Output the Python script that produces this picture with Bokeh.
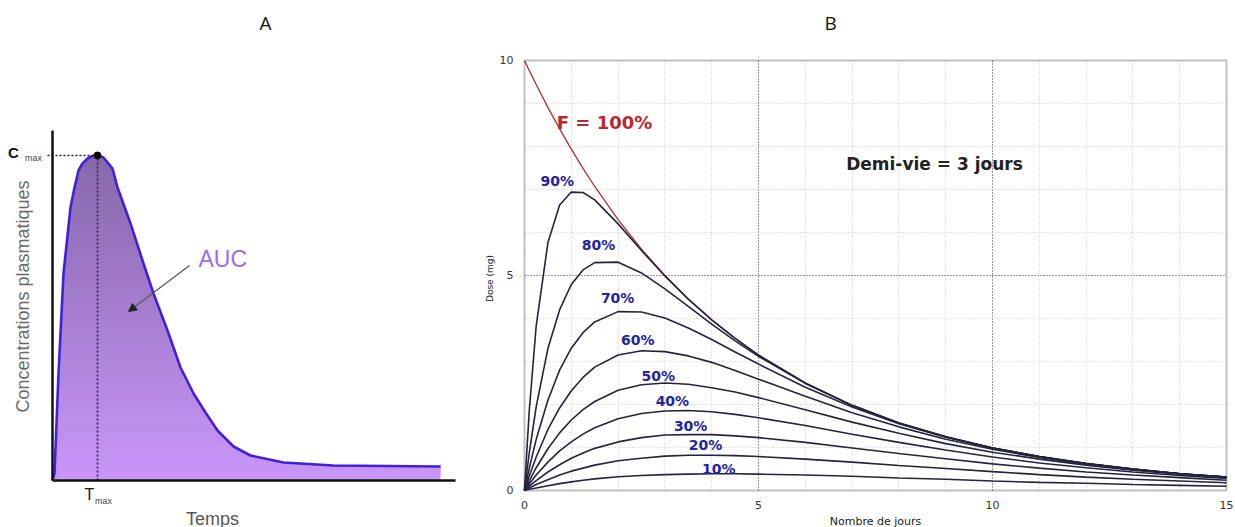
import numpy as np
from bokeh.plotting import figure
from bokeh.layouts import row
from bokeh.models import (Range1d, Label, Arrow, NormalHead, FixedTicker, LinearAxis,
                          Grid, BoxAnnotation)
from bokeh.embed import file_html
from bokeh.resources import INLINE

# ---------------- Panel A data (schematic concentration-time curve) ----------------
temps_a = [0, 0.2, 0.6, 1.1, 1.8, 2.2, 2.6, 3.0, 3.5, 4.0, 4.5, 5.1, 5.6, 6.0, 6.5, 7.8, 9.1, 10.1,
           11.5, 12.8, 14.1, 15.3, 16.5, 18.1, 19.8, 23.1, 28.1, 38.8]
conc_a = [0, 0.7, 10.7, 20.7, 27.3, 29.3, 31.0, 31.7, 32.2, 32.45, 32.5, 32.3, 31.7, 31.2, 29.3, 25.7, 21.7, 18.7,
          15.0, 11.3, 8.7, 6.8, 5.0, 3.4, 2.5, 1.8, 1.5, 1.4]
tmax_a = 4.5
cmax_a = 32.5

# ---------------- Panel B data (dose vs days, half-life 3 days) ----------------
days = [0, 0.1, 0.25, 0.5, 0.75, 1, 1.25, 1.5, 2, 2.5, 3, 3.5, 4, 4.5, 5, 6, 7, 8, 9, 10, 11, 12, 13, 14, 15]
f100 = [10, 9.77, 9.44, 8.91, 8.41, 7.94, 7.49, 7.07, 6.30, 5.61, 5.00, 4.45, 3.97, 3.54, 3.15, 2.50, 1.98, 1.57, 1.25, 0.99, 0.79, 0.63, 0.50, 0.39, 0.31]
f90 = [0, 1.83, 3.83, 5.76, 6.64, 6.94, 6.93, 6.76, 6.20, 5.58, 4.99, 4.45, 3.97, 3.54, 3.15, 2.50, 1.98, 1.57, 1.25, 0.99, 0.79, 0.63, 0.50, 0.39, 0.31]
f80 = [0, 0.86, 1.95, 3.30, 4.20, 4.79, 5.13, 5.30, 5.31, 5.06, 4.69, 4.28, 3.87, 3.48, 3.12, 2.49, 1.98, 1.57, 1.25, 0.99, 0.79, 0.62, 0.50, 0.39, 0.31]
f70 = [0, 0.51, 1.19, 2.10, 2.80, 3.31, 3.67, 3.92, 4.16, 4.15, 4.01, 3.78, 3.51, 3.22, 2.94, 2.40, 1.94, 1.55, 1.24, 0.99, 0.79, 0.62, 0.50, 0.39, 0.31]
f60 = [0, 0.33, 0.78, 1.42, 1.92, 2.32, 2.63, 2.87, 3.15, 3.25, 3.23, 3.13, 2.98, 2.79, 2.59, 2.19, 1.81, 1.48, 1.19, 0.96, 0.77, 0.62, 0.49, 0.39, 0.31]
f50 = [0, 0.22, 0.53, 0.97, 1.34, 1.64, 1.88, 2.07, 2.33, 2.46, 2.50, 2.47, 2.39, 2.29, 2.16, 1.88, 1.59, 1.33, 1.09, 0.89, 0.73, 0.59, 0.47, 0.38, 0.30]
f40 = [0, 0.15, 0.36, 0.66, 0.92, 1.13, 1.31, 1.46, 1.67, 1.79, 1.85, 1.86, 1.83, 1.77, 1.69, 1.51, 1.31, 1.12, 0.94, 0.78, 0.64, 0.53, 0.43, 0.35, 0.28]
f30 = [0, 0.10, 0.23, 0.43, 0.60, 0.75, 0.87, 0.98, 1.13, 1.23, 1.29, 1.30, 1.30, 1.27, 1.23, 1.12, 0.99, 0.86, 0.74, 0.62, 0.52, 0.43, 0.36, 0.30, 0.24]
f20 = [0, 0.06, 0.14, 0.25, 0.36, 0.45, 0.52, 0.59, 0.69, 0.75, 0.80, 0.82, 0.82, 0.81, 0.79, 0.73, 0.66, 0.58, 0.51, 0.44, 0.37, 0.31, 0.26, 0.22, 0.18]
f10 = [0, 0.03, 0.06, 0.11, 0.16, 0.20, 0.24, 0.27, 0.32, 0.35, 0.37, 0.38, 0.39, 0.39, 0.38, 0.36, 0.33, 0.29, 0.26, 0.22, 0.19, 0.17, 0.14, 0.12, 0.10]

series_names = ["90%", "80%", "70%", "60%", "50%", "40%", "30%", "20%", "10%"]
series_values = [f90, f80, f70, f60, f50, f40, f30, f20, f10]
# label anchor positions (days, dose)
label_t = [0.70, 1.58, 1.99, 2.42, 2.86, 3.16, 3.55, 3.87, 4.15]
label_v = [7.19, 5.70, 4.47, 3.49, 2.67, 2.09, 1.49, 1.05, 0.51]

x_ticks_b = [0, 5, 10, 15]
y_ticks_b = [0, 5, 10]
x_major_grid = [5, 10]
y_major_grid = [5]
x_minor_grid = [1, 2, 3, 4, 6, 7, 8, 9, 11, 12, 13, 14]
y_minor_grid = [1, 2, 3, 4, 6, 7, 8, 9]

SANS = "Liberation Sans"
DJV = "DejaVu Sans"


def lab(p, x, y, text, font, size, color, style="normal", align="center", angle=0):
    p.add_layout(Label(x=x, y=y, text=text, text_font=font, text_font_size=size,
                       text_font_style=style, text_color=color, text_align=align,
                       text_baseline="middle", angle=angle))


# ================= Panel A =================
pA = figure(width=470, height=527, x_range=Range1d(-5.2, 41.8), y_range=Range1d(-4.7, 48.0),
            output_backend="svg", toolbar_location=None, x_axis_type=None, y_axis_type=None,
            min_border=0)
pA.outline_line_color = None

# gradient fill: stacked bands, then white mask above the curve
levels = np.linspace(0, 33, 60)
c_bot = np.array([201, 150, 248])
c_top = np.array([134, 104, 170])
for i in range(len(levels) - 1):
    f = levels[i] / 32.5
    c = np.clip(c_bot + (c_top - c_bot) * f, 0, 255).astype(int)
    col = "#%02x%02x%02x" % tuple(c)
    pA.quad(left=temps_a[0], right=temps_a[-1], bottom=levels[i], top=levels[-1],
            fill_color=col, line_color=None)
pA.varea(x=temps_a, y1=conc_a, y2=[40] * len(temps_a), fill_color="white")
pA.segment(x0=temps_a[-1], y0=conc_a[-1] + 0.3, x1=temps_a[-1], y1=40,
           line_color="white", line_width=3)

# axes (fixed at the origin, no ticks)
ax_a_x = LinearAxis(fixed_location=0, bounds=(0, 40.3), ticker=FixedTicker(ticks=[]))
ax_a_y = LinearAxis(fixed_location=0, bounds=(0, 35), ticker=FixedTicker(ticks=[]))
for ax in (ax_a_x, ax_a_y):
    ax.major_tick_line_color = None
    ax.minor_tick_line_color = None
    ax.major_label_text_font_size = "0px"
    ax.axis_line_color = "#111111"
    ax.axis_line_width = 2.5
pA.add_layout(ax_a_x, "below")
pA.add_layout(ax_a_y, "left")

# curve
pA.line(temps_a, conc_a, line_color="#4020d8", line_width=2.6)
# Cmax / Tmax dotted guides
pA.line([-0.5, tmax_a], [cmax_a, cmax_a], line_color="#222222", line_width=1.6, line_dash="2 2")
pA.line([tmax_a, tmax_a], [0, cmax_a], line_color="#333355", line_width=1.8, line_dash="2 2")
pA.scatter([tmax_a], [cmax_a], size=7, fill_color="black", line_color="black")

pA.add_layout(Arrow(end=NormalHead(size=8, fill_color="#222222", line_color="#222222"),
                    x_start=13.7, y_start=21.5, x_end=7.6, y_end=16.9,
                    line_color="#555555", line_width=1.2))
lab(pA, 14.6, 22.2, "AUC", SANS, "23px", "#9b6cf0", align="left")
lab(pA, 21.3, 45.8, "A", "Open Sans", "19px", "#111111")
lab(pA, -3.9, 32.8, "C", SANS, "15px", "#111111", style="bold")
lab(pA, -1.9, 32.3, "max", SANS, "9px", "#444444")
lab(pA, 3.7, -1.4, "T", SANS, "16px", "#111111")
lab(pA, 5.1, -2.0, "max", SANS, "9px", "#444444")
lab(pA, 16.0, -3.8, "Temps", SANS, "18px", "#555555")
lab(pA, -3.0, 18.4, "Concentrations plasmatiques", SANS, "18px", "#6a6a6a", angle=np.pi / 2)

# ================= Panel B =================
pB = figure(width=765, height=527, x_range=Range1d(-1.1538, 15.1923),
            y_range=Range1d(-0.8605, 11.3953),
            output_backend="svg", toolbar_location=None, x_axis_type=None, y_axis_type=None,
            min_border=0)
pB.outline_line_color = None

# grid restricted to the plot box
use_fallback = False
grids = []
for dim, majors, minors, bnds, cb in ((0, x_major_grid, x_minor_grid, (0, 15), (0, 10)),
                                      (1, y_major_grid, y_minor_grid, (0, 10), (0, 15))):
    g = Grid(dimension=dim, ticker=FixedTicker(ticks=majors, minor_ticks=minors), bounds=bnds,
             grid_line_color="#333333", grid_line_dash="1 2", grid_line_width=1,
             minor_grid_line_color="#c8c8c8", minor_grid_line_dash="1 2", minor_grid_line_width=1)
    try:
        g.cross_bounds = cb
    except Exception:
        use_fallback = True
    grids.append(g)
if not use_fallback:
    for g in grids:
        pB.add_layout(g)
else:
    pB.segment(x0=x_minor_grid, y0=0, x1=x_minor_grid, y1=10, line_color="#c8c8c8", line_dash="1 2")
    pB.segment(x0=0, y0=y_minor_grid, x1=15, y1=y_minor_grid, line_color="#c8c8c8", line_dash="1 2")
    pB.segment(x0=x_major_grid, y0=0, x1=x_major_grid, y1=10, line_color="#333333", line_dash="1 2")
    pB.segment(x0=0, y0=y_major_grid, x1=15, y1=y_major_grid, line_color="#333333", line_dash="1 2")

ax_b_x = LinearAxis(fixed_location=0, bounds=(0, 15), ticker=FixedTicker(ticks=x_ticks_b))
ax_b_y = LinearAxis(fixed_location=0, bounds=(0, 10), ticker=FixedTicker(ticks=y_ticks_b))
for ax in (ax_b_x, ax_b_y):
    ax.axis_line_color = None
    ax.major_tick_line_color = None
    ax.minor_tick_line_color = None
    ax.major_label_text_font = DJV
    ax.major_label_text_font_size = "11px"
    ax.major_label_text_color = "#333333"
    ax.major_label_standoff = 5
pB.add_layout(ax_b_x, "below")
pB.add_layout(ax_b_y, "left")

pB.line(days, f100, line_color="#a83232", line_width=1.3)
for vals in series_values:
    pB.line(days, vals, line_color="#24243e", line_width=1.6)

pB.add_layout(BoxAnnotation(left=0, right=15, bottom=0, top=10, fill_alpha=0,
                            line_color="#333333", line_width=2))

for name, lt, lv in zip(series_names, label_t, label_v):
    lab(pB, lt, lv, name, DJV, "14px", "#2323a0", style="bold")

lab(pB, 1.71, 8.56, "F = 100%", DJV, "18px", "#b8282e", style="bold")
lab(pB, 8.76, 7.6, "Demi-vie = 3 jours", DJV, "17px", "#222222", style="bold")
lab(pB, 6.54, 10.88, "B", "Open Sans", "19px", "#111111")
lab(pB, -0.73, 4.93, "Dose (mg)", DJV, "9px", "#222222", angle=np.pi / 2)
lab(pB, 7.5, -0.73, "Nombre de jours", DJV, "11px", "#222222")

layout = row(pA, pB)
open("out.html", "w").write(file_html(layout, INLINE))
